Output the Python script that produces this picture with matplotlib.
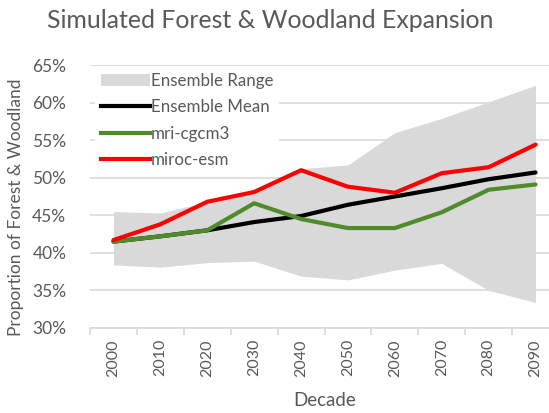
import matplotlib
matplotlib.use("Agg")
import matplotlib.pyplot as plt
from matplotlib.patches import Patch
from matplotlib.lines import Line2D
import numpy as np

decades = ["2000", "2010", "2020", "2030", "2040", "2050", "2060", "2070", "2080", "2090"]
range_upper = [45.5, 45.3, 46.8, 48.4, 51.2, 51.7, 56.0, 57.9, 60.1, 62.3]
range_lower = [38.4, 38.1, 38.7, 38.9, 36.9, 36.4, 37.7, 38.6, 35.0, 33.4]
ensemble_mean = [41.5, 42.2, 43.0, 44.1, 44.9, 46.4, 47.5, 48.6, 49.8, 50.7]
mri_cgcm3 = [41.5, 42.2, 43.0, 46.6, 44.5, 43.3, 43.3, 45.4, 48.4, 49.1]
miroc_esm = [41.7, 43.8, 46.8, 48.1, 51.0, 48.8, 48.0, 50.6, 51.4, 54.4]
y_ticks = [30, 35, 40, 45, 50, 55, 60, 65]

plt.rcParams['font.family'] = ['Lato', 'DejaVu Sans']
txt = '#595959'
grid = '#d9d9d9'

W, H = 549, 413
fig = plt.figure(figsize=(W / 100, H / 100), dpi=100)
left, right, top, bottom = 90, 559, 65, 328
ax = fig.add_axes([left / W, (H - bottom) / H, (right - left) / W, (bottom - top) / H])

x = np.arange(len(decades))
ax.fill_between(x, range_lower, range_upper, color='#d9d9d9', linewidth=0, zorder=2)
ax.plot(x, ensemble_mean, color='black', lw=3, zorder=3, solid_capstyle='round')
ax.plot(x, mri_cgcm3, color='#4f8a2b', lw=3, zorder=4, solid_capstyle='round')
ax.plot(x, miroc_esm, color='#ff0000', lw=3, zorder=5, solid_capstyle='round')

ax.set_xlim(-0.5, len(decades) - 0.5)
ax.set_ylim(30, 65)
ax.set_yticks(y_ticks)
ax.set_yticklabels([f"{v}%" for v in y_ticks])
ax.yaxis.grid(True, color=grid, lw=1.2, zorder=0)
ax.set_axisbelow(True)
ax.set_xticks(x)
ax.set_xticklabels(decades, rotation=90)
ax.set_xticks(np.arange(len(decades) + 1) - 0.5, minor=True)
ax.tick_params(axis='x', which='major', length=0, pad=8, labelsize=11.5, labelcolor=txt)
ax.tick_params(axis='x', which='minor', length=5, color=grid, width=1.2)
ax.tick_params(axis='y', length=0, pad=17, labelsize=12.5, labelcolor=txt)
for s in ['top', 'right', 'left']:
    ax.spines[s].set_visible(False)
ax.spines['bottom'].set_color(grid)
ax.spines['bottom'].set_linewidth(1.2)

ax.set_xlabel("Decade", fontsize=13.5, color=txt, labelpad=11)
fig.text(16 / W, 1 - 207 / H, "Proportion of Forest & Woodland", fontsize=12.5,
         color=txt, ha='center', va='center', rotation=90)
fig.text(270 / W, 1 - 20 / H, "Simulated Forest & Woodland Expansion", fontsize=17.9,
         color=txt, ha='center', va='center')

handles = [Patch(facecolor='#d9d9d9', edgecolor='none'),
           Line2D([], [], color='black', lw=3),
           Line2D([], [], color='#4f8a2b', lw=3),
           Line2D([], [], color='#ff0000', lw=3)]
labels = ["Ensemble Range", "Ensemble Mean", "mri-cgcm3", "miroc-esm"]
leg = ax.legend(handles, labels, loc='upper left', bbox_to_anchor=(0.0, 1.012),
                frameon=True, framealpha=1, edgecolor='none', fontsize=12.2,
                handlelength=2.9, handletextpad=0.05, labelspacing=0.62,
                borderpad=0.35, borderaxespad=0.3)
for t in leg.get_texts():
    t.set_color(txt)
leg.set_zorder(10)

fig.savefig("out.png", dpi=100)
